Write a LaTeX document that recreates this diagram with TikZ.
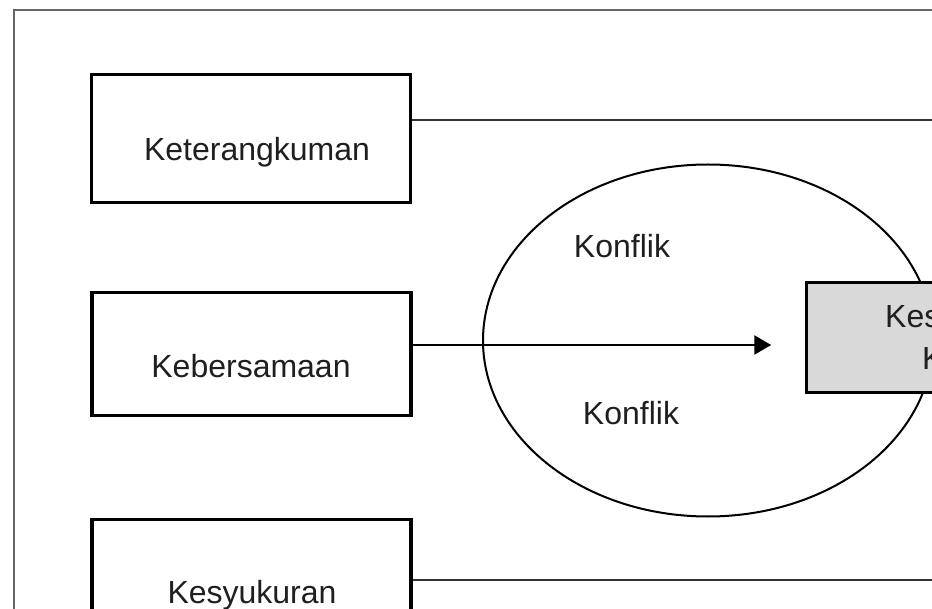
\documentclass[tikz,border=0pt]{standalone}
\usepackage{fontspec}
\setmainfont{Liberation Sans}
\usetikzlibrary{arrows.meta,shapes.geometric}
\begin{document}
\begin{tikzpicture}[x=1pt,y=-1pt,
  box/.style={draw=black,line width=3.5pt,minimum width=319pt,inner sep=0pt,fill=white},
  goalbox/.style={draw=black,line width=3.5pt,fill=gray!30,minimum width=220pt,minimum height=110pt,inner sep=0pt},
  lbl/.style={font=\fontsize{32}{36}\selectfont,text=black!88,anchor=base,inner sep=0pt},
  conn/.style={draw=black!80,line width=2pt},
  arr/.style={draw=black,line width=2.5pt,-{Triangle[length=17pt,width=19pt]}},
  frame/.style={draw=black!60,line width=2.5pt}]
\useasboundingbox (0,0) rectangle (932,609);
\clip (0,0) rectangle (932,609);
\fill[white] (0,0) rectangle (932,609);
\draw[frame] (14,10) rectangle (1100,800);
% ellipse
\node[draw=black,line width=2pt,ellipse,minimum width=450pt,minimum height=352pt,inner sep=0pt] (circ) at (708,340.5) {};
% boxes
\node[box,minimum height=128pt] (k1) at (251,138.5) {};
\node[box,minimum height=123pt] (k2) at (251.5,354) {};
\node[box,minimum height=128pt] (k3) at (251.5,583.5) {};
\node[goalbox] (goal) at (916.5,337.5) {};
% labels
\node[lbl] (t1) at (257,161) {Keterangkuman};
\node[lbl] (t2) at (251,378) {Kebersamaan};
\node[lbl] (t3) at (252,603) {Kesyukuran};
\node[lbl] (c1) at (622,258) {Konflik};
\node[lbl] (c2) at (631,425) {Konflik};
\node[lbl,anchor=base west] (g1) at (885,328) {Kes};
\node[lbl,anchor=base west] (g2) at (922,370) {K};
% connectors
\coordinate (r1) at (960,120);
\coordinate (r3) at (960,580);
\draw[conn] ([yshift=18.5pt]k1.east) -- (r1);
\draw[conn] ([yshift=3.5pt]k3.east) -- (r3);
\draw[arr,shorten >=33.5pt] ([yshift=9pt]k2.east) -- ([yshift=9pt]k2.east -| goal.west);
\end{tikzpicture}
\end{document}
